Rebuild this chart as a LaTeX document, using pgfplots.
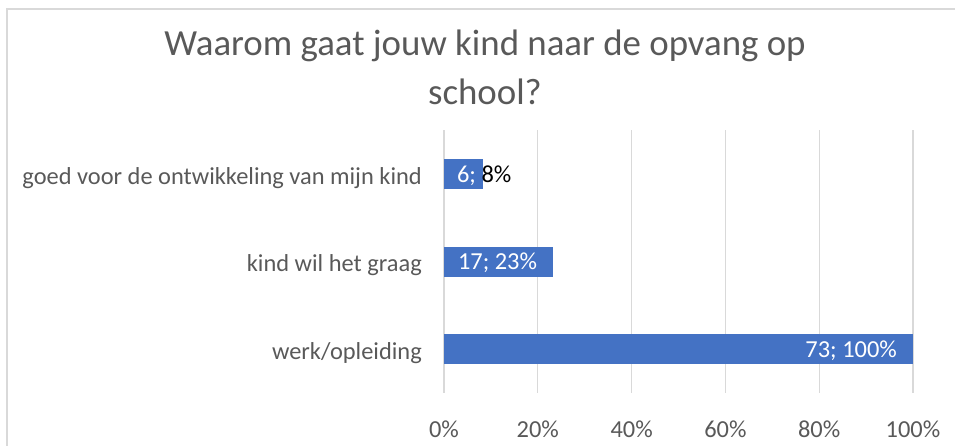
\documentclass[border=0pt]{standalone}
\usepackage{fontspec}
\setmainfont{Carlito}
\usepackage{pgfplots}
\pgfplotsset{compat=1.18}
\definecolor{barblue}{HTML}{4472C4}
\definecolor{txtgray}{HTML}{595959}
\definecolor{gridgray}{HTML}{D9D9D9}
\begin{document}
\begin{tikzpicture}
\useasboundingbox (0bp,0bp) rectangle (955bp,446bp);
\draw[gridgray, line width=1.3bp] (7bp,0bp) -- (7bp,437bp) -- (960bp,437bp);
\begin{axis}[
  at={(444bp,53bp)}, anchor=south west,
  width=469bp, height=262.5bp, scale only axis,
  xmin=0, xmax=100, ymin=-0.5, ymax=2.5,
  axis line style={draw=none},
  xtick={0,20,40,60,80,100},
  xticklabels={0\%,20\%,40\%,60\%,80\%,100\%},
  ytick={0,1,2},
  yticklabels={werk/opleiding, kind wil het graag, goed voor de ontwikkeling van mijn kind},
  major tick length=0pt,
  tick style={draw=none},
  xmajorgrids, ymajorgrids=false,
  grid style={gridgray, line width=1.3bp},
  tick label style={font=\fontsize{24.5}{28}\selectfont, text=txtgray, inner sep=0pt},
  xticklabel style={anchor=base, yshift=-44bp},
  yticklabel style={anchor=base east, xshift=-22bp, yshift=-10bp},
  title={Waarom gaat jouw kind naar de opvang op\\[2bp]school?},
  title style={font=\fontsize{37}{47}\selectfont, text=txtgray, align=center, anchor=south, inner sep=0pt, at={(axis description cs:0.0874,1.0743)}},
  xbar, bar width=30bp, bar shift=0pt,
  clip=false,
]
\addplot[fill=barblue, draw=none, nodes near coords={73; 100\%},
  every node near coord/.append style={font=\fontsize{24.5}{28}\selectfont, inner sep=0pt, anchor=base east, text=white, xshift=-16bp, yshift=-8bp}]
  coordinates {(100,0)};
\addplot[fill=barblue, draw=none, nodes near coords={17; 23\%},
  every node near coord/.append style={font=\fontsize{24.5}{28}\selectfont, inner sep=0pt, anchor=base east, text=white, xshift=-16bp, yshift=-8bp}]
  coordinates {(23.29,1)};
\addplot[fill=barblue, draw=none, nodes near coords={\textcolor{white}{6;} 8\%},
  every node near coord/.append style={font=\fontsize{24.5}{28}\selectfont, inner sep=0pt, anchor=base east, text=black, xshift=29bp, yshift=-8bp}]
  coordinates {(8.22,2)};
\end{axis}
\end{tikzpicture}
\end{document}
